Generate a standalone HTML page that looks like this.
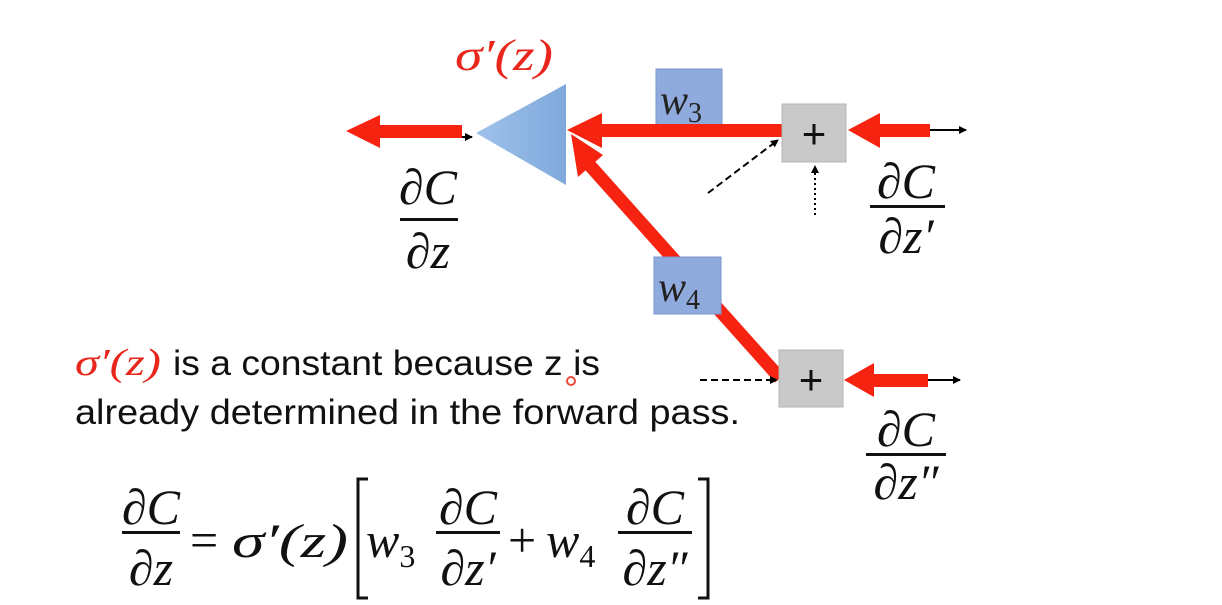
<!DOCTYPE html>
<html><head><meta charset="utf-8"><style>
html,body{margin:0;padding:0;background:#fff;}
svg{display:block;}
.m{font-family:"Liberation Serif",serif;font-style:italic;}
.s{font-family:"Liberation Sans",sans-serif;}
</style></head><body>
<svg width="1222" height="605" viewBox="0 0 1222 605" xmlns="http://www.w3.org/2000/svg">
<defs>
<marker id="ah" markerWidth="8" markerHeight="8" refX="7" refY="4" orient="auto" markerUnits="userSpaceOnUse"><path d="M0,0 L8,4 L0,8 z" fill="#000"/></marker>
<linearGradient id="tg" x1="0" x2="1"><stop offset="0" stop-color="#9fc2ea"/><stop offset="1" stop-color="#7fa8dc"/></linearGradient>
</defs>
<text x="455" y="70" class="m" font-size="44" fill="#e8261c" textLength="98" lengthAdjust="spacingAndGlyphs">σ′(z)</text>
<line x1="375" y1="137" x2="472" y2="137" stroke="#000" stroke-width="2" marker-end="url(#ah)"/>
<rect x="378" y="125" width="84" height="13" fill="#f5230f"/>
<polygon points="346,131 380,115 380,148" fill="#f5230f"/>
<polygon points="476,133 566,84 566,185" fill="url(#tg)"/>
<rect x="656" y="69" width="66" height="57" fill="#8faadc" stroke="#7a95cc" stroke-width="1"/>
<text x="660" y="114" class="m" font-size="42" fill="#222">w<tspan font-size="28" font-style="normal" dy="8">3</tspan></text>
<rect x="600" y="124" width="184" height="13" fill="#f5230f"/>
<polygon points="567,130 602,113 602,148" fill="#f5230f"/>
<line x1="585" y1="160" x2="780" y2="378" stroke="#f5230f" stroke-width="13"/>
<polygon points="571,134 603,155 578,177" fill="#f5230f"/>
<rect x="654" y="257" width="67" height="57" fill="#8faadc" stroke="#7a95cc" stroke-width="1"/>
<text x="658" y="301" class="m" font-size="42" fill="#222">w<tspan font-size="28" font-style="normal" dy="8">4</tspan></text>
<rect x="782" y="104" width="64" height="58" fill="#c9c9c9" stroke="#b5b5b5"/>
<text x="814" y="148" font-family="Liberation Sans,sans-serif" font-size="42" text-anchor="middle" fill="#111">+</text>
<rect x="779" y="350" width="64" height="57" fill="#c9c9c9" stroke="#b5b5b5"/>
<text x="811" y="394" font-family="Liberation Sans,sans-serif" font-size="42" text-anchor="middle" fill="#111">+</text>
<line x1="925" y1="130" x2="966" y2="130" stroke="#000" stroke-width="2" marker-end="url(#ah)"/>
<rect x="878" y="124" width="52" height="13" fill="#f5230f"/>
<polygon points="848,130 880,113 880,148" fill="#f5230f"/>
<line x1="925" y1="380" x2="960" y2="380" stroke="#000" stroke-width="2" marker-end="url(#ah)"/>
<rect x="872" y="374" width="56" height="13" fill="#f5230f"/>
<polygon points="844,380 874,363 874,397" fill="#f5230f"/>
<line x1="708" y1="193" x2="778" y2="140" stroke="#000" stroke-width="2" stroke-dasharray="7,4" marker-end="url(#ah)"/>
<line x1="815" y1="215" x2="815" y2="166" stroke="#000" stroke-width="2" stroke-dasharray="2,3" marker-end="url(#ah)"/>
<line x1="700" y1="380" x2="777" y2="380" stroke="#000" stroke-width="2" stroke-dasharray="7,4" marker-end="url(#ah)"/>
<g class="m" font-size="50" fill="#111">
<text x="428" y="204" text-anchor="middle">∂C</text>
<rect x="400" y="218" width="58" height="3" fill="#111"/>
<text x="428" y="268" text-anchor="middle">∂z</text>
<text x="906" y="198" text-anchor="middle">∂C</text>
<rect x="870" y="205" width="75" height="3" fill="#111"/>
<text x="906" y="253" text-anchor="middle">∂z′</text>
<text x="906" y="446" text-anchor="middle">∂C</text>
<rect x="866" y="453" width="80" height="3" fill="#111"/>
<text x="906" y="499" text-anchor="middle">∂z″</text>
</g>
<text x="75" y="375" class="m" fill="#e8261c" font-size="38" textLength="86" lengthAdjust="spacingAndGlyphs">σ′(z)</text>
<text x="173" y="375" font-size="35" class="s" fill="#111" textLength="427" lengthAdjust="spacingAndGlyphs">is a constant because z is</text>
<text x="75" y="424" font-size="35" class="s" fill="#111" textLength="665" lengthAdjust="spacingAndGlyphs">already determined in the forward pass.</text>
<circle cx="571" cy="381" r="4" fill="none" stroke="#e84c3d" stroke-width="2"/>
<g class="m" font-size="50" fill="#111">
<text x="151" y="524" text-anchor="middle">∂C</text>
<rect x="122" y="531" width="58" height="3" fill="#111"/>
<text x="151" y="585" text-anchor="middle">∂z</text>
<text x="190" y="557" font-style="normal">=</text>
<text x="232" y="557" font-size="48" textLength="116" lengthAdjust="spacingAndGlyphs">σ′(z)</text>
<text x="366" y="557">w<tspan font-size="32" font-style="normal" dy="10">3</tspan></text>
<text x="468" y="524" text-anchor="middle">∂C</text>
<rect x="436" y="531" width="64" height="3" fill="#111"/>
<text x="468" y="585" text-anchor="middle">∂z′</text>
<text x="508" y="557" font-style="normal">+</text>
<text x="546" y="557">w<tspan font-size="32" font-style="normal" dy="10">4</tspan></text>
<text x="655" y="524" text-anchor="middle">∂C</text>
<rect x="618" y="531" width="74" height="3" fill="#111"/>
<text x="655" y="585" text-anchor="middle">∂z″</text>
</g>
<path d="M368,479 L358,479 L358,598 L368,598" fill="none" stroke="#111" stroke-width="3"/>
<path d="M698,479 L708,479 L708,598 L698,598" fill="none" stroke="#111" stroke-width="3"/>
</svg>
</body></html>
